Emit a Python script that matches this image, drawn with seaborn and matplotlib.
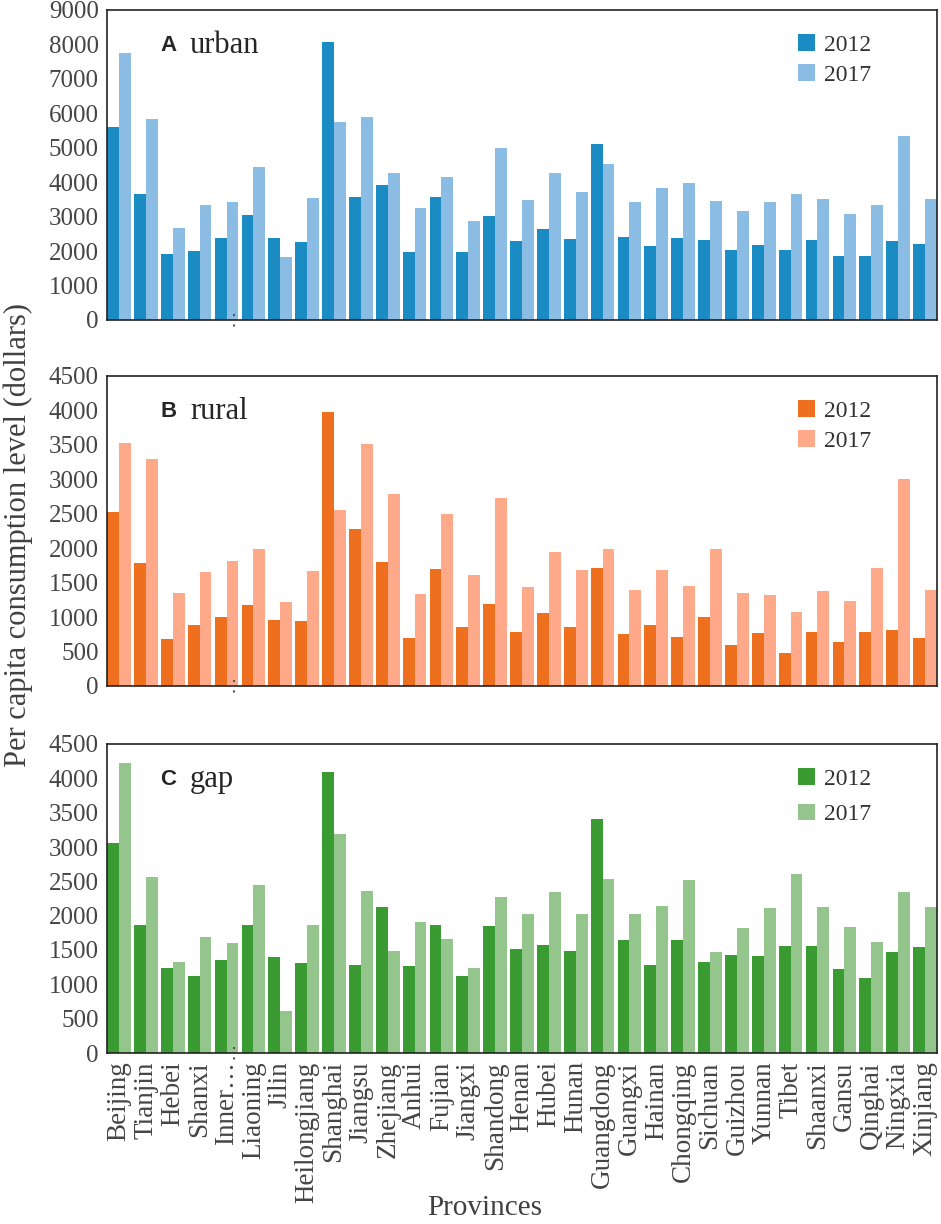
"""
Per capita consumption level: urban, rural and gap (2012 vs 2017)
"""
import pandas as pd
import seaborn as sns
import matplotlib.pyplot as plt
import matplotlib.transforms as mtransforms

provinces = ["Beijing", "Tianjin", "Hebei", "Shanxi", "Inner\u2026", "Liaoning", "Jilin",
             "Heilongjiang", "Shanghai", "Jiangsu", "Zhejiang", "Anhui", "Fujian", "Jiangxi",
             "Shandong", "Henan", "Hubei", "Hunan", "Guangdong", "Guangxi", "Hainan",
             "Chongqing", "Sichuan", "Guizhou", "Yunnan", "Tibet", "Shaanxi", "Gansu",
             "Qinghai", "Ningxia", "Xinjiang"]

urban_2012 = [5600, 3650, 1920, 2000, 2370, 3050, 2370, 2270, 8070, 3580, 3930, 1960, 3570, 1980,
              3030, 2300, 2640, 2360, 5120, 2400, 2150, 2370, 2320, 2030, 2180, 2040, 2330, 1870,
              1870, 2300, 2220]
urban_2017 = [7750, 5850, 2680, 3340, 3420, 4430, 1830, 3540, 5750, 5880, 4270, 3250, 4150, 2860,
              5000, 3480, 4280, 3710, 4530, 3420, 3820, 3970, 3460, 3170, 3430, 3670, 3500, 3080,
              3350, 5350, 3520]

rural_2012 = [2530, 1790, 680, 890, 1000, 1170, 960, 940, 3980, 2280, 1800, 690, 1700, 860,
              1190, 780, 1060, 850, 1710, 750, 880, 710, 1000, 600, 770, 480, 780, 640,
              780, 820, 690]
rural_2017 = [3530, 3290, 1350, 1650, 1810, 1990, 1220, 1670, 2550, 3520, 2790, 1340, 2490, 1610,
              2730, 1440, 1940, 1680, 1990, 1390, 1680, 1450, 1990, 1350, 1320, 1070, 1380, 1230,
              1720, 3000, 1400]

gap_2012 = [3060, 1860, 1240, 1120, 1360, 1860, 1400, 1310, 4090, 1280, 2120, 1270, 1870, 1120,
            1850, 1510, 1570, 1490, 3410, 1640, 1280, 1650, 1330, 1430, 1410, 1560, 1560, 1230,
            1090, 1470, 1540]
gap_2017 = [4220, 2560, 1330, 1690, 1600, 2440, 610, 1860, 3190, 2360, 1490, 1910, 1660, 1240,
            2270, 2030, 2340, 2020, 2540, 2030, 2140, 2520, 1470, 1820, 2110, 2600, 2120, 1830,
            1610, 2350, 2120]

years = ["2012", "2017"]

# panel letter, title, values, colours, y max, tick step
panels = [
    ("A", "urban", urban_2012, urban_2017, ["#1a8bc3", "#8bbce3"], 9000, 1000),
    ("B", "rural", rural_2012, rural_2017, ["#ee701f", "#fda98a"], 4500, 500),
    ("C", "gap", gap_2012, gap_2017, ["#3b9b33", "#93c58d"], 4500, 500),
]

sns.set_theme(style="white")
plt.rcParams['font.family'] = ['Liberation Serif', 'DejaVu Serif']

fig = plt.figure(figsize=(9.41, 12.24), dpi=100)
W, H = 941, 1224
boxes = [(10, 320), (376, 686), (744, 1053)]
left, right = 107, 937

for (letter, title, v12, v17, colors, ymax, step), (top, bot) in zip(panels, boxes):
    ax = fig.add_axes([left / W, 1 - bot / H, (right - left) / W, (bot - top) / H])
    df = pd.DataFrame({
        "province": provinces * 2,
        "year": [years[0]] * len(provinces) + [years[1]] * len(provinces),
        "value": v12 + v17,
    })
    sns.barplot(data=df, x="province", y="value", hue="year", palette=colors,
                width=0.88, linewidth=0, saturation=1, ax=ax, errorbar=None)
    ax.set_xlim(-0.45, len(provinces) - 0.55)
    ax.set_ylim(0, ymax)
    ax.set_yticks(range(0, ymax + 1, step))
    ax.tick_params(axis="y", labelsize=18, labelcolor="#454545", length=0, pad=6)
    ax.set_xlabel("")
    ax.set_ylabel("")
    for s in ax.spines.values():
        s.set_color("#222222")
        s.set_linewidth(1.2)

    ax.set_xticks(range(len(provinces)))
    if letter == "C":
        ax.set_xticklabels(provinces, rotation=90, fontsize=19.5, color="#454545")
        ax.tick_params(axis="x", length=0, pad=6)
    else:
        ax.set_xticklabels([])
        ax.tick_params(axis="x", length=0)

    # small dotted mark below the axis at Inner Mongolia
    trans = mtransforms.blended_transform_factory(ax.transData, ax.transAxes)
    ax.plot([4.27, 4.27], [0.02, -0.04], linestyle=(0, (1, 4)), color="#555555", lw=1.5,
            transform=trans, clip_on=False)

    ax.text(0.064, 0.885, letter, transform=ax.transAxes, fontsize=16, fontweight="bold",
            family="Liberation Sans", va="center")
    ax.text(0.1, 0.885, title, transform=ax.transAxes, fontsize=22, va="center")

    leg = ax.legend(loc="upper right", bbox_to_anchor=(0.935, 0.96), frameon=False,
                    fontsize=17, handlelength=0.7, handleheight=0.7, handletextpad=0.4,
                    labelspacing=0.35 if letter != "C" else 0.6, borderpad=0)
    for t in leg.get_texts():
        t.set_color("#333333")

fig.text(18 / W, 1 - 535 / H, "Per capita consumption level (dollars)", rotation=90,
         fontsize=22, color="#404040", ha="center", va="center")
fig.text(485 / W, 1 - 1208 / H, "Provinces", fontsize=21, color="#404040",
         ha="center", va="center")

fig.savefig("out.png", dpi=100)
